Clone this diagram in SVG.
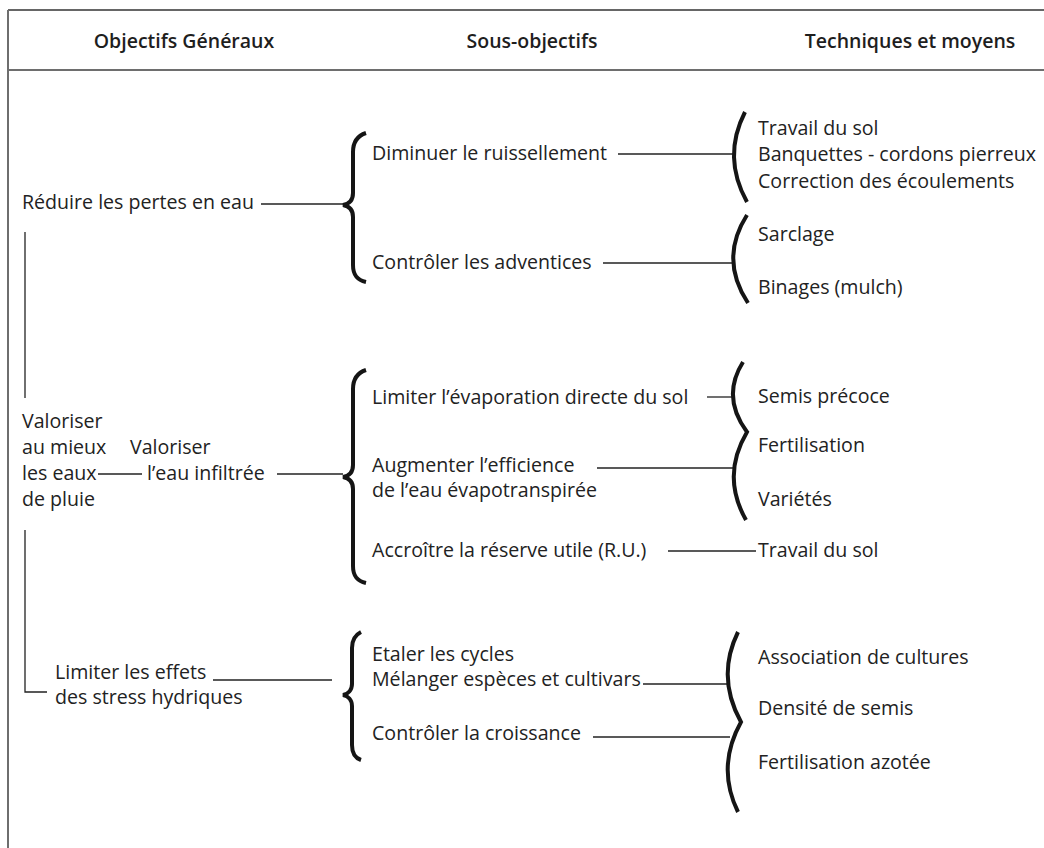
<svg xmlns="http://www.w3.org/2000/svg" width="1044" height="848" viewBox="0 0 1044 848">
  <style>
    .hd { font-family: "Open Sans", "Liberation Sans", sans-serif; font-size: 19.5px; font-weight: 600; fill: #1e1e1e; text-anchor: middle; }
    .t { font-family: "Open Sans", "Liberation Sans", sans-serif; font-size: 19.6px; fill: #222; }
    .ln { stroke: #222; stroke-width: 1.3; fill: none; }
    .br { stroke: #151515; stroke-width: 4; fill: none; stroke-linecap: butt; stroke-linejoin: miter; }
    .frame { stroke: #6e6e6e; stroke-width: 2; fill: none; }
  </style>
  <rect width="1044" height="848" fill="#fff"/>

  <!-- table frame -->
  <g id="frame">
    <line x1="8" y1="10" x2="1044" y2="10" stroke="#333" stroke-width="1.6"/>
    <line class="frame" x1="8" y1="10" x2="8" y2="848"/>
    <line class="frame" x1="8" y1="70" x2="1044" y2="70"/>
  </g>

  <!-- column headings -->
  <g id="headings">
    <text class="hd" x="184" y="48">Objectifs Généraux</text>
    <text class="hd" x="532" y="48">Sous-objectifs</text>
    <text class="hd" x="910" y="48">Techniques et moyens</text>
  </g>

  <!-- general objectives -->
  <g id="obj-pertes">
    <text class="t" x="22" y="209">Réduire les pertes en eau</text>
  </g>
  <g id="obj-valoriser">
    <text class="t" x="22" y="428">Valoriser</text>
    <text class="t" x="22" y="454">au mieux</text>
    <text class="t" x="22" y="480">les eaux</text>
    <text class="t" x="22" y="506">de pluie</text>
  </g>
  <g id="obj-infiltree">
    <text class="t" x="130" y="454">Valoriser</text>
    <text class="t" x="147" y="480">l’eau infiltrée</text>
  </g>
  <g id="obj-stress">
    <text class="t" x="55" y="679">Limiter les effets</text>
    <text class="t" x="55" y="704">des stress hydriques</text>
  </g>

  <!-- sub-objectives -->
  <g id="sub-ruissellement"><text class="t" x="372" y="160">Diminuer le ruissellement</text></g>
  <g id="sub-adventices"><text class="t" x="372" y="269">Contrôler les adventices</text></g>
  <g id="sub-evaporation"><text class="t" x="372" y="404">Limiter l’évaporation directe du sol</text></g>
  <g id="sub-efficience">
    <text class="t" x="372" y="472">Augmenter l’efficience</text>
    <text class="t" x="372" y="497">de l’eau évapotranspirée</text>
  </g>
  <g id="sub-reserve"><text class="t" x="372" y="557">Accroître la réserve utile (R.U.)</text></g>
  <g id="sub-cycles"><text class="t" x="372" y="661">Etaler les cycles</text></g>
  <g id="sub-melanger"><text class="t" x="372" y="686">Mélanger espèces et cultivars</text></g>
  <g id="sub-croissance"><text class="t" x="372" y="740">Contrôler la croissance</text></g>

  <!-- techniques and means -->
  <g id="tech-ruissellement">
    <text class="t" x="758" y="135">Travail du sol</text>
    <text class="t" x="758" y="161">Banquettes - cordons pierreux</text>
    <text class="t" x="758" y="188">Correction des écoulements</text>
  </g>
  <g id="tech-adventices">
    <text class="t" x="758" y="241">Sarclage</text>
    <text class="t" x="758" y="294">Binages (mulch)</text>
  </g>
  <g id="tech-evapo">
    <text class="t" x="758" y="403">Semis précoce</text>
    <text class="t" x="758" y="452">Fertilisation</text>
    <text class="t" x="758" y="506">Variétés</text>
  </g>
  <g id="tech-reserve"><text class="t" x="758" y="557">Travail du sol</text></g>
  <g id="tech-stress">
    <text class="t" x="758" y="664">Association de cultures</text>
    <text class="t" x="758" y="715">Densité de semis</text>
    <text class="t" x="758" y="769">Fertilisation azotée</text>
  </g>

  <!-- connectors: braces, parentheses and lead lines -->
  <g id="connectors">
    <!-- left spine -->
    <path class="ln" d="M25,232 V398"/>
    <path class="ln" d="M25,530 V692 H47"/>

    <!-- lead lines to the sub-objective braces -->
    <path class="ln" d="M261,204 H343"/>
    <path class="ln" d="M98,474 H142"/>
    <path class="ln" d="M277,474 H343"/>
    <path class="ln" d="M213,680 H332"/>

    <!-- lead lines to the technique parentheses -->
    <path class="ln" d="M618,154 H733"/>
    <path class="ln" d="M603,263 H733"/>
    <path class="ln" d="M707,397 H733"/>
    <path class="ln" d="M597,468 H733"/>
    <path class="ln" d="M668,551 H756"/>
    <path class="ln" d="M643,684 H730"/>
    <path class="ln" d="M593,737 H730"/>

    <!-- curly braces (sub-objectives) -->
    <path class="br" d="M366,133 C357,136 353,142 353,152 L353,193 C353,200 349,204 343,205 C349,206 353,210 353,217 L353,265 C353,275 357,280 366,282"/>
    <path class="br" d="M366,370 C357,373 353,379 353,389 L353,465 C353,472 349,476 343,477 C349,478 353,482 353,489 L353,566 C353,576 357,581 366,583"/>
    <path class="br" d="M361,632 C355,635 352,640 352,648 L352,684 C352,690 348,694 343,695 C348,696 352,700 352,706 L352,745 C352,753 355,758 361,760"/>

    <!-- parentheses (techniques) -->
    <path class="br" d="M745,112 Q722,157 747,202"/>
    <path class="br" d="M747,215 Q719,259 748,303"/>
    <path class="br" d="M743,362 Q721,397 747,432 Q721,476 746,520"/>
    <path class="br" d="M738,632 Q716,677 741,722 Q716,767 738,812"/>
  </g>
</svg>
